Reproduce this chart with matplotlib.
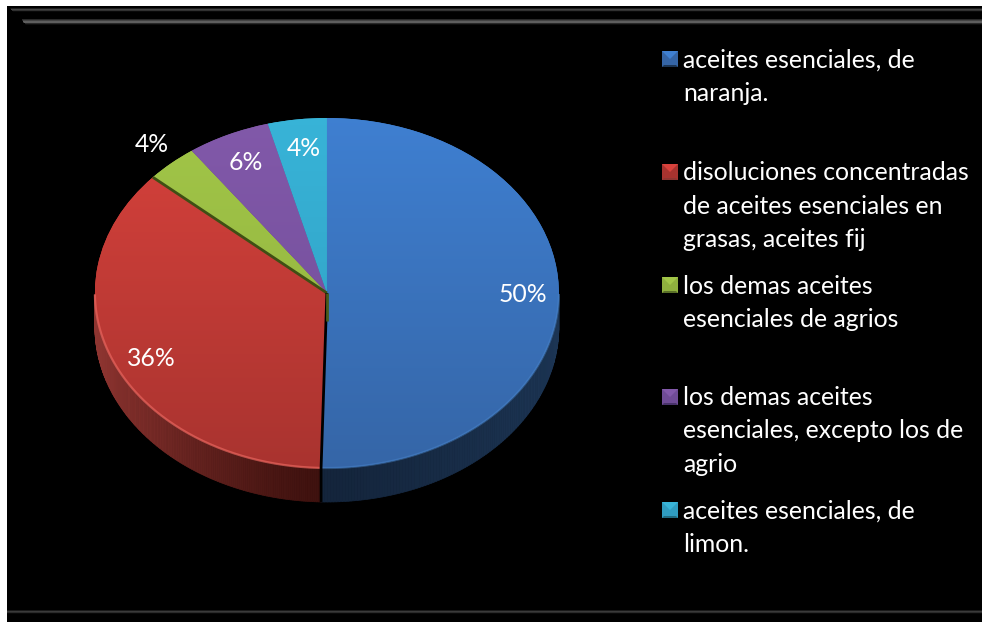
import numpy as np
import matplotlib
matplotlib.use("Agg")
import matplotlib.pyplot as plt
from matplotlib.patches import Rectangle, Polygon
from matplotlib.collections import PolyCollection
from matplotlib.colors import LinearSegmentedColormap as LSC, to_rgb

categories = ["aceites esenciales, de\nnaranja.",
              "disoluciones concentradas\nde aceites esenciales en\ngrasas, aceites fij",
              "los demas aceites\nesenciales de agrios",
              "los demas aceites\nesenciales, excepto los de\nagrio",
              "aceites esenciales, de\nlimon."]
values = [50.4, 36.1, 3.6, 5.8, 4.1]
top_light = ["#3f80d2", "#d8423c", "#a2c648", "#8259aa", "#38b4d8"]
top_dark = ["#3565a6", "#a8332f", "#8fb03e", "#6f4c96", "#2f9cc0"]
side_light = ["#1c3554", "#8f3531", "#5a7028", "#48336a", "#1f6a80"]
side_dark = ["#14253c", "#3e110e", "#5a7028", "#48336a", "#1f6a80"]
rim_color = ["#4a86cc", "#e8655e", "#a2c648", "#8259aa", "#38b4d8"]
rim_alpha = [0.45, 0.7, 0.7, 0.7, 0.7]
legend_y = [75, 204, 301, 429, 526]
label_xy = [(523, 295), (151, 358), (152, 144), (246, 163), (304, 149)]

W, H = 982, 622
plt.rcParams["font.family"] = ["Lato", "DejaVu Sans"]
fig = plt.figure(figsize=(W / 100, H / 100), dpi=100, facecolor="white")

bg = fig.add_axes([0, 0, 1, 1])
bg.set_xlim(0, W)
bg.set_ylim(H, 0)
bg.axis("off")
bg.add_patch(Rectangle((7, 5.5), W - 7, H - 5.5, color="black", lw=0))


def bar(x0, y0, y1, peak, slant):
    n = 8
    for i in range(n):
        a = y0 + (y1 - y0) * i / n
        b = y0 + (y1 - y0) * (i + 1) / n
        t = 1 - abs((i + 0.5) / n - 0.5) * 2
        c = str(round(peak * t, 3))
        bg.add_patch(Polygon([(x0 + slant * i / n, a), (W, a), (W, b),
                              (x0 + slant * (i + 1) / n, b)], color=c, lw=0))


bar(10, 7.5, 12, 0.3, 3)
bar(21, 18.5, 25, 0.42, 5)
bar(7, 609.5, 614, 0.26, 0)

# pie
cx, cy, rx, ry = 325.5, 293.0, 232.0, 175.0
x_off = 0.006
ax = fig.add_axes([(cx - rx) / W, 1 - (cy + ry) / H, 2 * rx / W, 2 * ry / H])
wedges, _ = ax.pie(values, colors=top_light, startangle=90, counterclock=False,
                   center=(x_off, 0), radius=1,
                   wedgeprops=dict(lw=0, zorder=5))
ax.set_aspect("auto")
ax.axis("off")
depth = 34 / ry

for i, w in enumerate(wedges):
    angs = np.radians(np.linspace(w.theta1, w.theta2, 240))
    a = angs[np.sin(angs) < 0]
    if a.size:
        px, py = x_off + np.cos(a), np.sin(a)
        quads, cols = [], []
        c0, c1 = np.array(to_rgb(side_light[i])), np.array(to_rgb(side_dark[i]))
        for k in range(a.size - 1):
            quads.append([(px[k], py[k]), (px[k + 1], py[k + 1]),
                          (px[k + 1], py[k + 1] - depth), (px[k], py[k] - depth)])
            t = abs(np.cos((a[k] + a[k + 1]) / 2))  # 1 at the sides, 0 at the front
            cols.append(c1 + (c0 - c1) * t ** 1.3)
        ax.add_collection(PolyCollection(quads, facecolors=cols, edgecolors=cols,
                                         linewidths=0.5, zorder=3))
        ax.plot(px, py, color=rim_color[i], lw=1.6, alpha=rim_alpha[i], zorder=7,
                solid_capstyle="butt")
    cm = LSC.from_list("t", [top_dark[i], top_light[i]])
    g = np.linspace(0, 1, 256)[:, None]
    im = ax.imshow(g, extent=(-1.05, 1.05, -1.05, 1.05), cmap=cm, aspect="auto",
                   origin="lower", zorder=6, vmin=0, vmax=1)
    im.set_clip_path(w)

ax.set_xlim(-1.02, 1.02)
ax.set_ylim(-1.25, 1.02)
ax.set_position([(cx - rx * 1.02) / W, 1 - (cy + ry * 1.25) / H,
                 2.04 * rx / W, 2.27 * ry / H])

# seams between slices
b = np.cumsum(values) / sum(values) * 360
pt = lambda d: (x_off + np.sin(np.radians(d)), np.cos(np.radians(d)))
x, y = pt(b[1])
ax.plot([x_off, x], [0, y], color="#3f4f14", lw=2, zorder=8, solid_capstyle="butt")
x, y = pt(b[0])
ax.plot([x_off, x, x], [0, y, y - depth], color="black", lw=2, zorder=8, solid_capstyle="butt")
ax.plot([x_off, x_off], [0, -28 / ry], color="#4a5c1c", lw=2, zorder=8, solid_capstyle="butt")

# overlay: labels and legend
ov = fig.add_axes([0, 0, 1, 1], facecolor="none")
ov.set_xlim(0, W)
ov.set_ylim(H, 0)
ov.axis("off")
FS = 17.8
for v, (x, y) in zip(values, label_xy):
    ov.text(x, y, f"{v:.0f}%", color="white", fontsize=FS, ha="center", va="center")

for i, (lab, y) in enumerate(zip(categories, legend_y)):
    ov.text(683.5, y + 2, lab, color="white", fontsize=FS, ha="left", va="center", linespacing=1.54)
    n = lab.count("\n") + 1
    my = y - (n - 1) * 16
    s = 8
    x0 = 670
    ov.add_patch(Rectangle((x0 - s, my - s), 2 * s, 2 * s, color=top_dark[i], lw=0))
    ov.add_patch(Polygon([(x0 - s, my - s), (x0 + s, my - s), (x0, my)], color=top_light[i], lw=0))
    ov.add_patch(Polygon([(x0 - s, my + s), (x0 + s, my + s), (x0 + s - 2, my + s - 2), (x0 - s + 2, my + s - 2)],
                         color=side_light[i], lw=0))

fig.savefig("out.png", dpi=100, facecolor="white")
